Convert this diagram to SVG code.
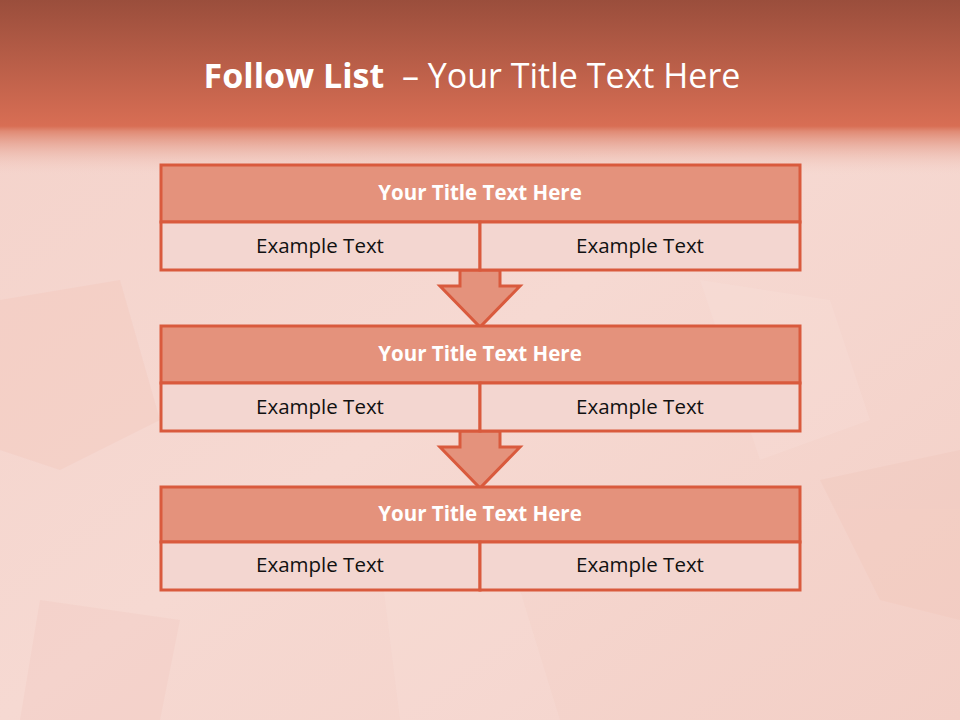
<svg xmlns="http://www.w3.org/2000/svg" width="960" height="720" viewBox="0 0 960 720">
<defs>
<linearGradient id="hdr" x1="0" y1="0" x2="0" y2="175" gradientUnits="userSpaceOnUse">
<stop offset="0" stop-color="#9a4e3c"/>
<stop offset="0.72" stop-color="#d86e54"/>
<stop offset="0.75" stop-color="#e08a74"/>
<stop offset="1" stop-color="#f2cdc4" stop-opacity="0"/>
</linearGradient>
<linearGradient id="bg" x1="0" y1="0" x2="1" y2="1">
<stop offset="0" stop-color="#f4d2ca"/>
<stop offset="0.5" stop-color="#f6d9d2"/>
<stop offset="1" stop-color="#f3cfc6"/>
</linearGradient>
<style>
.t{fill:#e4927c;stroke:#d95a3d;stroke-width:3}
.r{fill:#f3d6d0;stroke:#d95a3d;stroke-width:3}
.a{fill:#e4927c;stroke:#d95a3d;stroke-width:3;stroke-linejoin:miter}
.tt{font-family:"Open Sans","Liberation Sans",sans-serif;font-weight:bold;font-size:20.5px;fill:#ffffff;text-anchor:middle}
.et{font-family:"Open Sans","Liberation Sans",sans-serif;font-size:20.5px;fill:#111111;text-anchor:middle}
</style>
</defs>
<rect x="0" y="0" width="960" height="720" fill="url(#bg)"/>
<g opacity="0.2">
<polygon points="0,300 120,280 160,420 60,470 0,450" fill="#efb9ab"/>
<polygon points="700,280 830,300 870,420 760,460" fill="#fbe6e1"/>
<polygon points="380,560 520,590 560,720 400,720" fill="#fbe6e1"/>
<polygon points="820,480 960,450 960,620 880,600" fill="#efbcae"/>
<polygon points="40,600 180,620 160,720 20,720" fill="#f0c0b3"/>
</g>
<rect x="0" y="0" width="960" height="175" fill="url(#hdr)"/>
<text x="472" y="88" text-anchor="middle" xml:space="preserve" font-family="'Open Sans','Liberation Sans',sans-serif" font-size="34" fill="#ffffff"><tspan font-weight="bold">Follow List</tspan>  – Your Title Text Here</text>
<g id="connectors">
<polygon class="a" points="460,270 500,270 500,286 520,286 480,327 440,286 460,286"/>
<polygon class="a" points="460,431 500,431 500,447 520,447 480,488 440,447 460,447"/>
</g>
<g id="node1">
<rect class="t" x="161" y="165" width="639" height="57"/>
<rect class="r" x="161" y="222" width="319" height="48"/>
<rect class="r" x="480" y="222" width="320" height="48"/>
<text class="tt" x="480" y="200">Your Title Text Here</text>
<text class="et" x="320" y="253">Example Text</text>
<text class="et" x="640" y="253">Example Text</text>
</g>
<g id="node2">
<rect class="t" x="161" y="326" width="639" height="57"/>
<rect class="r" x="161" y="383" width="319" height="48"/>
<rect class="r" x="480" y="383" width="320" height="48"/>
<text class="tt" x="480" y="361">Your Title Text Here</text>
<text class="et" x="320" y="414">Example Text</text>
<text class="et" x="640" y="414">Example Text</text>
</g>
<g id="node3">
<rect class="t" x="161" y="487" width="639" height="55"/>
<rect class="r" x="161" y="542" width="319" height="48"/>
<rect class="r" x="480" y="542" width="320" height="48"/>
<text class="tt" x="480" y="521">Your Title Text Here</text>
<text class="et" x="320" y="572">Example Text</text>
<text class="et" x="640" y="572">Example Text</text>
</g>
</svg>
